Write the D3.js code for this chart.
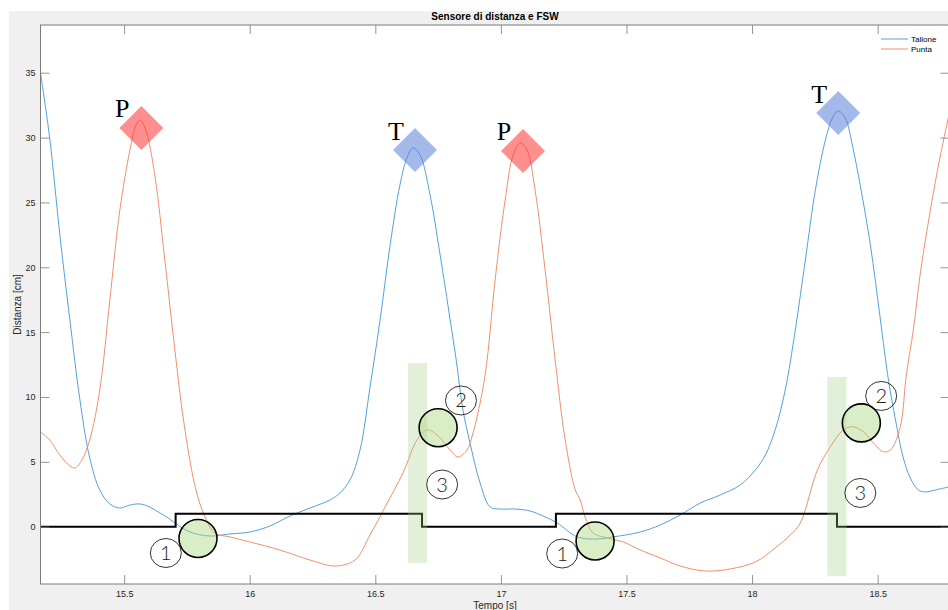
<!DOCTYPE html>
<html>
<head>
<meta charset="utf-8">
<script src="https://cdn.jsdelivr.net/npm/d3@7"></script>
<style>
  html, body { margin: 0; padding: 0; background: #ffffff; }
  svg { display: block; }
  text { font-family: "Liberation Sans", Arial, Helvetica, sans-serif; }
</style>
</head>
<body>
<svg id="chart" width="948" height="610"></svg>
<script>
// Tallone (heel) distance sensor, [s] and [cm]
const talloneT = [15.167, 15.204, 15.244, 15.284, 15.324, 15.363, 15.403, 15.443, 15.483, 15.523,
  15.563, 15.602, 15.642, 15.670, 15.702, 15.762, 15.841, 15.921, 16.001, 16.080,
  16.160, 16.240, 16.320, 16.359, 16.399, 16.439, 16.479, 16.519, 16.559, 16.598,
  16.626, 16.650, 16.678, 16.718, 16.758, 16.798, 16.822, 16.849, 16.877, 16.917,
  16.957, 16.997, 17.057, 17.116, 17.176, 17.224, 17.304, 17.383, 17.447, 17.555,
  17.634, 17.714, 17.794, 17.873, 17.953, 18.013, 18.053, 18.092, 18.132, 18.172,
  18.212, 18.252, 18.292, 18.320, 18.343, 18.371, 18.399, 18.431, 18.471, 18.511,
  18.543, 18.571, 18.602, 18.630, 18.662, 18.690, 18.730, 18.782];
const talloneV = [34.98, 29.9, 22.5, 15.94, 9.77, 5.30, 2.83, 1.75, 1.44, 1.67,
  1.75, 1.52, 1.06, 0.75, 0.29, -0.41, -0.72, -0.56, -0.41, 0.05,
  0.82, 1.44, 2.06, 2.60, 3.60, 5.90, 10.77, 15.94, 21.72, 26.34,
  28.43, 29.20, 28.66, 25.57, 20.95, 15.94, 12.85, 8.99, 6.45, 3.37,
  1.52, 1.36, 1.36, 1.21, 0.75, 0.29, -0.79, -0.95, -0.79, -0.41,
  0.13, 0.90, 1.83, 2.44, 3.22, 4.37, 5.53, 7.46, 10.54, 15.16,
  20.56, 25.96, 29.81, 31.51, 32.05, 31.51, 29.43, 26.27, 21.72, 15.94,
  11.31, 8.23, 5.30, 3.75, 2.83, 2.68, 2.83, 3.06];

// Punta (toe) distance sensor
const puntaT = [15.167, 15.204, 15.244, 15.284, 15.304, 15.332, 15.363, 15.403, 15.443, 15.483,
  15.523, 15.547, 15.563, 15.586, 15.622, 15.662, 15.702, 15.742, 15.786, 15.822,
  15.861, 15.921, 16.001, 16.120, 16.240, 16.339, 16.419, 16.479, 16.539, 16.610,
  16.666, 16.706, 16.746, 16.798, 16.829, 16.865, 16.889, 16.925, 16.945, 16.977,
  17.017, 17.049, 17.077, 17.104, 17.136, 17.176, 17.216, 17.256, 17.296, 17.316,
  17.335, 17.367, 17.423, 17.487, 17.555, 17.634, 17.714, 17.814, 17.913, 18.013,
  18.092, 18.152, 18.192, 18.260, 18.312, 18.363, 18.399, 18.443, 18.483, 18.523,
  18.551, 18.590, 18.614, 18.642, 18.670, 18.710, 18.750, 18.782];
const puntaV = [7.30, 6.68, 5.53, 4.68, 4.53, 5.14, 6.68, 10.54, 17.48, 24.42,
  29.04, 30.97, 31.35, 30.58, 27.11, 20.56, 13.62, 7.46, 2.83, 0.75,
  -0.49, -0.79, -1.18, -1.80, -2.57, -3.03, -2.57, -0.64, 1.52, 4.14,
  6.68, 7.46, 7.07, 5.91, 5.37, 5.91, 7.22, 10.31, 12.85, 19.02,
  25.19, 28.66, 29.58, 29.04, 25.96, 19.79, 12.85, 6.68, 2.83, 2.06,
  0.75, -0.49, -0.87, -1.18, -1.80, -2.41, -3.03, -3.42, -3.26, -2.72,
  -1.64, -0.64, 0.29, 4.37, 6.17, 7.46, 7.71, 7.32, 6.45, 5.78,
  5.91, 7.71, 11.70, 15.16, 19.56, 24.42, 28.66, 31.59];

// FSW footswitch state (step signal, 0 / 1)
const fswT = [15.167, 15.705, 16.686, 17.219, 18.338, 18.786];
const fswV = [0, 1, 0, 1, 0, 0];

// Peak labels: P = punta, T = tallone
const peakT = [15.5685, 16.658, 17.088, 18.343];
const peakV = [30.74, 29.04, 28.97, 31.89];
const peakLabel = ["P", "T", "P", "T"];

// Event markers (filled circles) and numbered callouts
const eventT = [15.794, 16.750, 17.375, 18.435];
const eventV = [-0.91, 7.63, -1.10, 8.00];
const calloutT = [15.666, 16.841, 16.766, 17.244, 18.514, 18.431];
const calloutV = [-2.03, 9.73, 3.25, -2.07, 10.08, 2.60];
const calloutLabel = ["1", "2", "3", "1", "2", "3"];

// Shaded time bands
const bandT0 = [16.630, 18.300];
const bandT1 = [16.706, 18.376];
const bandV0 = [-2.80, -3.80];
const bandV1 = [12.62, 11.54];

const xTicks = [15.5, 16, 16.5, 17, 17.5, 18, 18.5];
const yTicks = [0, 5, 10, 15, 20, 25, 30, 35];
const xDomain = [15.167, 18.786];
const yDomain = [-4.42, 38.68];

const seriesNames = ["Tallone", "Punta"];
const seriesColors = ["#52a2dd", "#f0906a"];

const svg = d3.select("#chart");
const W = 948, H = 610;
const axL = 40.5, axR = 949.5, axT = 25, axB = 584;

const x = d3.scaleLinear().domain(xDomain).range([axL, axR]);
const y = d3.scaleLinear().domain(yDomain).range([axB, axT]);

// figure background
svg.append("rect").attr("x", 9).attr("y", 11).attr("width", W - 9).attr("height", H - 11)
  .attr("fill", "#f0f0f0");
// axes area
svg.append("rect").attr("x", axL).attr("y", axT).attr("width", axR - axL).attr("height", axB - axT)
  .attr("fill", "#ffffff");

svg.append("defs").append("clipPath").attr("id", "plotclip")
  .append("rect").attr("x", axL).attr("y", axT).attr("width", axR - axL).attr("height", axB - axT);

const plot = svg.append("g").attr("clip-path", "url(#plotclip)");

// sensor curves
const line = d3.line().x(d => x(d[0])).y(d => y(d[1])).curve(d3.curveCatmullRom.alpha(0.5));
const talloneData = talloneT.map((t, i) => [t, talloneV[i]]);
const puntaData = puntaT.map((t, i) => [t, puntaV[i]]);
plot.append("path").datum(talloneData).attr("d", line)
  .attr("fill", "none").attr("stroke", seriesColors[0]).attr("stroke-width", 1);
plot.append("path").datum(puntaData).attr("d", line)
  .attr("fill", "none").attr("stroke", seriesColors[1]).attr("stroke-width", 1);

// FSW step signal
const stepLine = d3.line().x(d => x(d[0])).y(d => y(d[1])).curve(d3.curveStepAfter);
plot.append("path").datum(fswT.map((t, i) => [t, fswV[i]])).attr("d", stepLine)
  .attr("fill", "none").attr("stroke", "#000000").attr("stroke-width", 2);

// shaded bands
plot.selectAll("rect.band").data(bandT0).join("rect").attr("class", "band")
  .attr("x", (d, i) => x(bandT0[i]))
  .attr("width", (d, i) => x(bandT1[i]) - x(bandT0[i]))
  .attr("y", (d, i) => y(bandV1[i]))
  .attr("height", (d, i) => y(bandV0[i]) - y(bandV1[i]))
  .attr("fill", "rgb(160,205,130)").attr("fill-opacity", 0.3);

// peak diamonds
const half = 22;
plot.selectAll("path.peak").data(peakT).join("path").attr("class", "peak")
  .attr("d", (d, i) => {
    const cx = x(peakT[i]), cy = y(peakV[i]);
    return `M${cx},${cy - half}L${cx + half},${cy}L${cx},${cy + half}L${cx - half},${cy}Z`;
  })
  .attr("fill", (d, i) => peakLabel[i] === "P" ? "rgb(255,50,50)" : "rgb(90,125,215)")
  .attr("fill-opacity", 0.55);
plot.selectAll("text.peak").data(peakT).join("text").attr("class", "peak")
  .attr("x", (d, i) => x(peakT[i]) - 19)
  .attr("y", (d, i) => y(peakV[i]) - 10.5)
  .attr("text-anchor", "middle")
  .style("font-family", "'Liberation Serif', 'Times New Roman', serif")
  .style("font-size", "26px")
  .attr("fill", "#000")
  .text((d, i) => peakLabel[i]);

// event circles
plot.selectAll("circle.event").data(eventT).join("circle").attr("class", "event")
  .attr("cx", (d, i) => x(eventT[i])).attr("cy", (d, i) => y(eventV[i])).attr("r", 19)
  .attr("fill", "rgb(170,215,130)").attr("fill-opacity", 0.45)
  .attr("stroke", "#000").attr("stroke-width", 1.6);

// numbered callouts
plot.selectAll("ellipse.callout").data(calloutT).join("ellipse").attr("class", "callout")
  .attr("cx", (d, i) => x(calloutT[i])).attr("cy", (d, i) => y(calloutV[i]))
  .attr("rx", 15.5).attr("ry", 14.5)
  .attr("fill", "none").attr("stroke", "#000").attr("stroke-width", 0.8);
plot.selectAll("text.callout").data(calloutT).join("text").attr("class", "callout")
  .attr("x", (d, i) => x(calloutT[i])).attr("y", (d, i) => y(calloutV[i]) + 7)
  .attr("text-anchor", "middle")
  .style("font-family", "Lato, 'Open Sans', sans-serif")
  .style("font-weight", 300)
  .style("font-size", "20px")
  .attr("fill", "#222")
  .text((d, i) => calloutLabel[i]);

// axes
const tickColor = "#7a7a7a";
const gB = svg.append("g").attr("transform", `translate(0,${axB})`)
  .call(d3.axisBottom(x).tickValues(xTicks).tickSizeInner(-9).tickSizeOuter(0).tickPadding(7)
    .tickFormat(d3.format("")));
const gL = svg.append("g").attr("transform", `translate(${axL},0)`)
  .call(d3.axisLeft(y).tickValues(yTicks).tickSizeInner(-9).tickSizeOuter(0).tickPadding(5)
    .tickFormat(d3.format("")));
const gT = svg.append("g").attr("transform", `translate(0,${axT})`)
  .call(d3.axisTop(x).tickValues(xTicks).tickSizeInner(-9).tickSizeOuter(0).tickFormat(""));
const gR = svg.append("g").attr("transform", `translate(${axR},0)`)
  .call(d3.axisRight(y).tickValues(yTicks).tickSizeInner(-9).tickSizeOuter(0).tickFormat(""));
[gB, gL, gT, gR].forEach(g => {
  g.select(".domain").remove();
  g.selectAll(".tick line").attr("stroke", tickColor).attr("stroke-width", 0.8);
  g.selectAll(".tick text").attr("fill", "#262626")
    .style("font-family", "'Liberation Sans', Arial, sans-serif").style("font-size", "9px");
});

// axes box
svg.append("rect").attr("x", axL).attr("y", axT).attr("width", axR - axL).attr("height", axB - axT)
  .attr("fill", "none").attr("stroke", tickColor).attr("stroke-width", 1);

// title and axis labels
svg.append("text").attr("x", (axL + axR) / 2).attr("y", 20).attr("text-anchor", "middle")
  .style("font-weight", "bold").style("font-size", "10px").attr("fill", "#000")
  .text("Sensore di distanza e FSW");
svg.append("text").attr("x", (axL + axR) / 2).attr("y", 609).attr("text-anchor", "middle")
  .style("font-size", "10px").attr("fill", "#262626").text("Tempo [s]");
svg.append("text").attr("transform", `translate(21,${(axT + axB) / 2}) rotate(-90)`)
  .attr("text-anchor", "middle")
  .style("font-size", "10px").attr("fill", "#262626").text("Distanza [cm]");

// legend
const legend = svg.append("g");
seriesNames.forEach((name, i) => {
  const ly = 39 + i * 10;
  legend.append("line").attr("x1", 881).attr("x2", 908).attr("y1", ly).attr("y2", ly)
    .attr("stroke", seriesColors[i]).attr("stroke-width", 1);
  legend.append("text").attr("x", 911).attr("y", ly + 3)
    .style("font-size", "8px").attr("fill", "#000").text(name);
});
</script>
</body>
</html>
